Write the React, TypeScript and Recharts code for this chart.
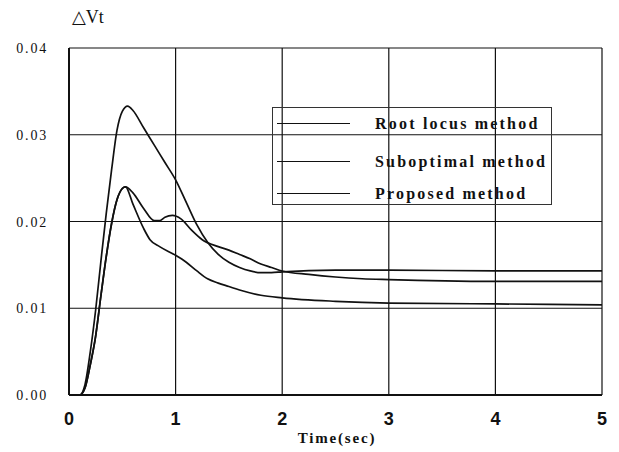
import { LineChart, Line, XAxis, YAxis, CartesianGrid, Legend } from 'recharts'

// time (sec) and ΔVt values
const rootTime = [0, 0.1, 0.15, 0.2, 0.25, 0.3, 0.35, 0.4, 0.45, 0.5, 0.55, 0.6, 0.7, 0.8, 0.9, 1.0, 1.1, 1.2, 1.3, 1.4, 1.5, 1.6, 1.7, 1.8, 1.9, 2.0, 2.5, 3, 4, 5]
const rootVals = [0, 0, 0.0012, 0.005, 0.0098, 0.0155, 0.021, 0.026, 0.0305, 0.0327, 0.0333, 0.0328, 0.0308, 0.0288, 0.0268, 0.0248, 0.0222, 0.0196, 0.0176, 0.0162, 0.0153, 0.0147, 0.0143, 0.0141, 0.0141, 0.0142, 0.0144, 0.0144, 0.0143, 0.0143]

const subTime = [0, 0.1, 0.15, 0.2, 0.25, 0.3, 0.35, 0.4, 0.45, 0.5, 0.53, 0.6, 0.7, 0.8, 0.85, 0.9, 0.97, 1.05, 1.15, 1.25, 1.4, 1.5, 1.6, 1.7, 1.8, 1.9, 2.0, 2.25, 2.5, 2.75, 3, 4, 5]
const subVals = [0, 0, 0.0008, 0.0035, 0.0068, 0.0115, 0.016, 0.0198, 0.0225, 0.0238, 0.024, 0.0233, 0.0215, 0.0201, 0.0201, 0.0205, 0.0207, 0.0203, 0.019, 0.0179, 0.0171, 0.0167, 0.0162, 0.0157, 0.0151, 0.0147, 0.0143, 0.0139, 0.0136, 0.0134, 0.0133, 0.0131, 0.0131]

const propTime = [0, 0.1, 0.15, 0.2, 0.25, 0.3, 0.35, 0.4, 0.45, 0.5, 0.53, 0.6, 0.7, 0.76, 0.85, 1.0, 1.1, 1.2, 1.3, 1.4, 1.5, 1.6, 1.8, 2.0, 2.5, 3, 4, 5]
const propVals = [0, 0, 0.0008, 0.0035, 0.0068, 0.0115, 0.016, 0.0198, 0.0225, 0.0238, 0.024, 0.022, 0.0192, 0.0179, 0.0171, 0.0161, 0.0153, 0.0143, 0.0134, 0.0129, 0.0125, 0.0121, 0.0115, 0.0112, 0.0108, 0.0106, 0.0105, 0.0104]

const seriesNames = ['Root locus method', 'Suboptimal method', 'Proposed method']
const xTicks = [0, 1, 2, 3, 4, 5]
const yTicks = [0, 0.01, 0.02, 0.03, 0.04]

const toPoints = (t: number[], v: number[]) => t.map((x, i) => ({ t: x, v: v[i] }))

const series = [
  { name: seriesNames[0], data: toPoints(rootTime, rootVals) },
  { name: seriesNames[1], data: toPoints(subTime, subVals) },
  { name: seriesNames[2], data: toPoints(propTime, propVals) },
]

const serif = '"Liberation Serif", "DejaVu Serif", serif'
const sans = '"Liberation Sans", Arial, sans-serif'

const YTick = ({ x, y, payload }: any) => (
  <text x={x - 13} y={y + 5} textAnchor="end" fontFamily={serif} fontSize={14} letterSpacing={1.8} fill="#111">
    {payload.value.toFixed(2)}
  </text>
)

const XTick = ({ x, y, payload }: any) => (
  <text x={x} y={y + 22} textAnchor="middle" fontFamily={sans} fontSize={18} fontWeight="bold" fill="#111">
    {payload.value}
  </text>
)

const renderLegend = (props: any) => {
  const items = [...(props.payload || [])].sort(
    (a: any, b: any) => seriesNames.indexOf(a.value) - seriesNames.indexOf(b.value)
  )
  return (
    <div style={{ border: '1px solid #333', width: 280, height: 98, boxSizing: 'border-box', position: 'relative' }}>
      {items.map((entry: any, i: number) => (
        <div key={entry.value} style={{ position: 'absolute', left: 4, top: [15, 53, 85][i], display: 'flex', alignItems: 'center' }}>
          <div style={{ width: 73, height: 0, borderTop: '1.5px solid #111' }} />
          <span style={{ marginLeft: 25, fontFamily: serif, fontSize: 16, fontWeight: 'bold', letterSpacing: 2.2, color: '#111', lineHeight: '1px' }}>
            {entry.value}
          </span>
        </div>
      ))}
    </div>
  )
}

export default function App() {
  return (
    <div style={{ position: 'absolute', left: 0, top: 0, width: 619, height: 452, background: '#fff' }}>
      <LineChart width={619} height={452} margin={{ top: 48, right: 17, left: 9, bottom: 27 }}>
        <CartesianGrid stroke="#111" strokeWidth={1.2} horizontalValues={yTicks} verticalValues={xTicks} />
        <XAxis
          dataKey="t"
          type="number"
          domain={[0, 5]}
          ticks={xTicks}
          tick={<XTick />}
          tickLine={false}
          axisLine={{ stroke: '#111', strokeWidth: 2 }}
          height={30}
          allowDuplicatedCategory={false}
        />
        <YAxis
          dataKey="v"
          type="number"
          domain={[0, 0.04]}
          ticks={yTicks}
          tick={<YTick />}
          tickLine={false}
          axisLine={{ stroke: '#111', strokeWidth: 2 }}
          width={60}
        />
        <Legend
          content={renderLegend}
          layout="horizontal"
          verticalAlign="middle"
          align="center"
          wrapperStyle={{ position: 'absolute', left: 272, top: 107, width: 280, height: 98 }}
        />
        {series.map((s) => (
          <Line
            key={s.name}
            data={s.data}
            dataKey="v"
            name={s.name}
            type="monotone"
            stroke="#111"
            strokeWidth={1.7}
            dot={false}
            isAnimationActive={false}
          />
        ))}
        <text x={72} y={23} fontFamily={serif} fontSize={18} fill="#111">△Vt</text>
        <text x={337} y={443} textAnchor="middle" fontFamily={serif} fontSize={15} fontWeight="bold" letterSpacing={1.8} fill="#111">
          Time(sec)
        </text>
      </LineChart>
    </div>
  )
}
